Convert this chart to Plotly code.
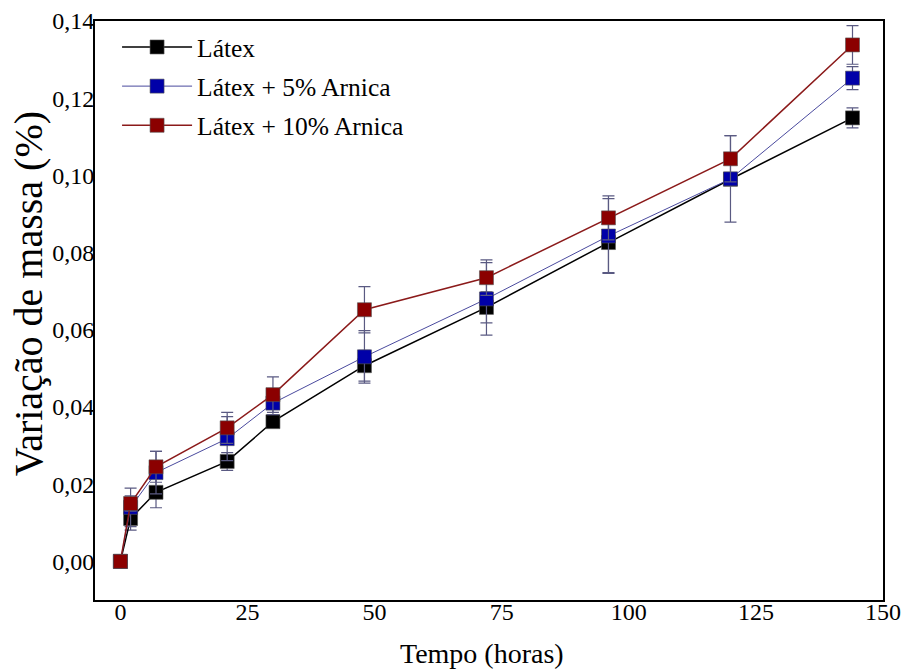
import plotly.graph_objects as go

tempo = [0, 2, 7, 21, 30, 48, 72, 96, 120, 144]

latex = [0, 0.0111, 0.0179, 0.0259, 0.0362, 0.0507, 0.0658, 0.0826, 0.0990, 0.1149]
latex_err = [0, 0.0030, 0.0040, 0.0023, 0.0015, 0.0040, 0.0040, 0.0078, 0.0010, 0.0026]

arnica5 = [0, 0.0140, 0.0230, 0.0318, 0.0410, 0.0530, 0.0680, 0.0843, 0.0991, 0.1252]
arnica5_err = [0, 0.0050, 0.0055, 0.0057, 0.0030, 0.0068, 0.0094, 0.0097, 0.0112, 0.0030]

arnica10 = [0, 0.0150, 0.0245, 0.0346, 0.0432, 0.0652, 0.0735, 0.0890, 0.1043, 0.1338]
arnica10_err = [0, 0.0020, 0.0040, 0.0040, 0.0046, 0.0060, 0.0046, 0.0057, 0.0060, 0.0050]

names = ["Látex", "Látex + 5% Arnica", "Látex + 10% Arnica"]
ys = [latex, arnica5, arnica10]
errs = [latex_err, arnica5_err, arnica10_err]
marker_colors = ["#000000", "#0000a8", "#8b0000"]
line_colors = ["#000000", "#4a4a9e", "#8b1a1a"]
line_widths = [1.5, 1.0, 1.5]

y_ticks = [0.00, 0.02, 0.04, 0.06, 0.08, 0.10, 0.12, 0.14]
y_tick_labels = ["0,00", "0,02", "0,04", "0,06", "0,08", "0,10", "0,12", "0,14"]
x_ticks = [0, 25, 50, 75, 100, 125, 150]
y_title = "Variação de massa (%)"
x_title = "Tempo (horas)"

fig = go.Figure()
for i, (name, y, e, mc, lc, lw) in enumerate(zip(names, ys, errs, marker_colors, line_colors, line_widths)):
    fig.add_trace(go.Scatter(
        x=tempo, y=y, name=name, mode="lines+markers", legendgroup=f"g{i}",
        line=dict(color=lc, width=lw),
        marker=dict(symbol="square", size=14, color=mc, line=dict(color="#555555", width=0.6)),
        error_y=dict(type="data", array=e, visible=True, color="#5a5a82", thickness=1.2, width=6),
    ))

font_family = "Liberation Serif"

fig.add_annotation(text=y_title, xref="paper", yref="paper", x=-0.085, y=0.528,
                   xanchor="center", yanchor="middle", textangle=-90, showarrow=False,
                   font=dict(size=40, family=font_family, color="black"))
fig.add_annotation(text=x_title, xref="paper", yref="paper", x=0.491, y=-0.092,
                   xanchor="center", yanchor="middle", showarrow=False,
                   font=dict(size=28, family=font_family, color="black"))

fig.update_layout(
    template="none",
    width=906, height=671,
    margin=dict(l=95, r=23, t=21, b=71, autoexpand=False),
    paper_bgcolor="white", plot_bgcolor="white",
    font=dict(family=font_family, color="black", size=24),
    showlegend=True,
    legend=dict(x=0.028, y=0.995, xanchor="left", yanchor="top",
                bgcolor="rgba(0,0,0,0)", font=dict(size=25.5, family=font_family),
                tracegroupgap=3, itemwidth=70),
    xaxis=dict(range=[-5, 150], tickvals=x_ticks, showgrid=False, zeroline=False,
               automargin=False,
               showline=True, linecolor="black", linewidth=2, mirror=True,
               ticks="", ticklen=0, ticklabelstandoff=-11,
               tickfont=dict(size=24, family=font_family)),
    yaxis=dict(range=[-0.01, 0.14], tickvals=y_ticks, ticktext=y_tick_labels,
               showgrid=False, zeroline=False, automargin=False,
               showline=True, linecolor="black", linewidth=2, mirror=True,
               ticks="", ticklen=0, ticklabelstandoff=-6,
               tickfont=dict(size=24, family=font_family)),
)

fig.write_html("out.html", post_script="document.body.style.margin='0px';",
               config={"displayModeBar": False})
